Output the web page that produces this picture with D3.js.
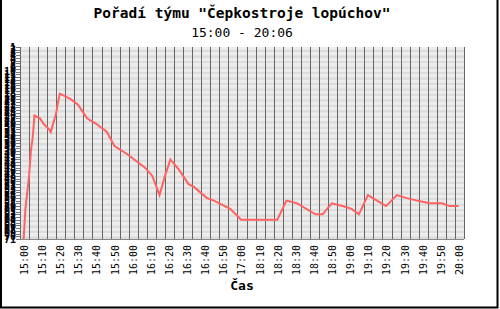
<!DOCTYPE html>
<html><head><meta charset="utf-8">
<script src="https://cdn.jsdelivr.net/npm/d3@7"></script>
<style>html,body{margin:0;padding:0;background:#fff}svg{display:block}</style>
</head><body>
<script>
const TITLE = 'Pořadí týmu "Čepkostroje lopúchov"';
const SUBTITLE = "15:00 - 20:06";
const X_TITLE = "Čas";
const xTickLabels = ["15:00","15:10","15:20","15:30","15:40","15:50","16:00","16:10","16:20","16:30","16:40","16:50","17:00",
  "18:10","18:20","18:30","18:40","18:50","19:00","19:10","19:20","19:30","19:40","19:50","20:00"];
const rankLabels = d3.range(1, 72);
const times = ["15:02","15:03","15:05","15:06","15:07","15:08","15:11","15:13","15:16","15:17","15:20","15:21","15:22","15:28",
  "15:32","15:37","15:42","15:48","15:52","15:59","16:03","16:09","16:13","16:17","16:20","16:23","16:28","16:33","16:36",
  "16:43","16:47","16:56","17:02","18:14","18:16","18:22","18:27","18:33","18:43","18:47","18:52","18:58","19:03","19:07",
  "19:12","19:17","19:22","19:28","19:33","19:39","19:46","19:53","19:57","20:02"];
const ranks = [71,60,48,39,34,26,27,29,31,32,25,21,18,20,
  22,27,29,32,37,40,42,45,48,55,48,42,46,51,52,
  56,57,60,64,64,64,64,57,58,62,62,58,59,60,62,
  55,57,59,55,56,57,58,58,59,59];

// axis skips 17:00-18:10 (text scale): map a clock time to position minutes
function axisMin(s){const [h,m]=s.split(":").map(Number);let v=h*60+m-900;return v>=180?v-60:v;}

const W=500,H=309;
const L=20,R=464,T=47,B=239;
const x=d3.scaleLinear().domain([0,245]).range([L,R]);
const y=d3.scaleLinear().domain([1,rankLabels.length]).range([T,B]);

const svg=d3.select("body").append("svg").attr("width",W).attr("height",H);
svg.append("rect").attr("width",W).attr("height",H).attr("fill","#fff");

// stripes
const g=svg.append("g");
for(let i=1;i<rankLabels.length;i++){
  g.append("rect").attr("x",L).attr("y",y(i)).attr("width",R-L).attr("height",y(i+1)-y(i))
   .attr("fill", i%2? "#ececec":"#dcdcdc");
}
// vertical grid every 5 min
g.selectAll("line.v").data(d3.range(0,246,5)).join("line").attr("class","v")
 .attr("x1",d=>Math.round(x(d))+0.5).attr("x2",d=>Math.round(x(d))+0.5).attr("y1",T).attr("y2",B)
 .attr("stroke","#666").attr("stroke-width",1);
svg.append("line").attr("x1",L).attr("x2",R).attr("y1",B+0.5).attr("y2",B+0.5).attr("stroke","#888");

// y axis
const ya=svg.append("g");
ya.selectAll("line").data(rankLabels).join("line")
 .attr("x1",16).attr("x2",L).attr("y1",d=>Math.round(y(d))+0.5).attr("y2",d=>Math.round(y(d))+0.5)
 .attr("stroke","#777");
ya.selectAll("text").data(rankLabels).join("text")
 .attr("x",16).attr("y",d=>y(d)+3.5).attr("text-anchor","end")
 .attr("font-family","DejaVu Sans Mono").attr("font-weight","bold").attr("font-size",10).attr("fill","#000")
 .text(d=>d);

// x labels
svg.append("g").selectAll("text").data(xTickLabels).join("text")
 .attr("transform",d=>`translate(${x(axisMin(d))+8},245) rotate(-90)`)
 .attr("text-anchor","end").attr("font-family","DejaVu Sans Mono").attr("font-size",10).attr("fill","#000")
 .text(d=>d);

// line
const line=d3.line().x((d,i)=>x(axisMin(times[i]))).y(d=>y(d));
svg.append("path").datum(ranks).attr("d",line).attr("fill","none").attr("stroke","#ff6262").attr("stroke-width",2);

// titles
const cx=(L+R)/2;
svg.append("text").attr("x",cx).attr("y",18).attr("text-anchor","middle").attr("font-family","DejaVu Sans Mono")
 .attr("font-weight","bold").attr("font-size",14.5).text(TITLE);
svg.append("text").attr("x",cx).attr("y",37).attr("text-anchor","middle").attr("font-family","DejaVu Sans Mono")
 .attr("font-size",13).text(SUBTITLE);
svg.append("text").attr("x",cx).attr("y",290).attr("text-anchor","middle").attr("font-family","DejaVu Sans Mono")
 .attr("font-weight","bold").attr("font-size",13).text(X_TITLE);

// frame
svg.append("path").attr("d",`M1,0V307.5H497.5V0`).attr("fill","none").attr("stroke","#000").attr("stroke-width",2);
</script>
</body></html>
